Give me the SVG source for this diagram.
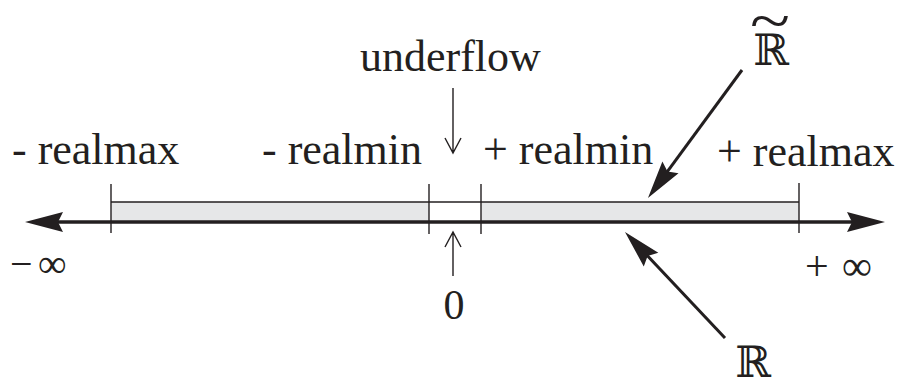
<svg xmlns="http://www.w3.org/2000/svg" width="899" height="381" viewBox="0 0 899 381">
<style>
.lbl{font-family:"Liberation Serif","Times New Roman",serif;font-size:44px;fill:#231f20}
.math{font-family:"Liberation Serif","Times New Roman",serif;font-size:40px;fill:#231f20}
.bb{font-family:"DejaVu Serif",serif;font-size:43px;fill:#231f20}
.thick{stroke:#231f20;stroke-width:3.5;fill:none}
.diag{stroke:#231f20;stroke-width:3;fill:none}
.thin{stroke:#231f20;stroke-width:1.4;fill:none}
.seg{fill:#e6e7e8;stroke:none}
</style>
<defs>
<marker id="head" markerUnits="userSpaceOnUse" viewBox="0 -12 40 24" markerWidth="40" markerHeight="24" refX="20" refY="0" orient="auto-start-reverse">
<path d="M2,-10 L40,0 L2,10 L7,0 Z" fill="#231f20"/>
</marker>
</defs>
<g id="bar">
<rect class="seg" x="111" y="202" width="318" height="20"/>
<rect class="seg" x="481" y="202" width="318" height="20"/>
<line class="thin" x1="111" y1="202" x2="799" y2="202"/>
<line class="thin" x1="111" y1="184" x2="111" y2="233"/>
<line class="thin" x1="429" y1="184" x2="429" y2="234"/>
<line class="thin" x1="481" y1="184" x2="481" y2="234"/>
<line class="thin" x1="799" y1="183" x2="799" y2="233"/>
</g>
<g id="connectors">
<line class="thick" x1="45" y1="222" x2="865" y2="222" marker-start="url(#head)" marker-end="url(#head)"/>
<line class="diag" x1="742" y1="70" x2="659.8" y2="181.9" marker-end="url(#head)"/>
<line class="diag" x1="725" y1="338" x2="638.7" y2="246.5" marker-end="url(#head)"/>
<path class="thin" d="M453,88 L453,153 M445,138 L453,153 L461,138"/>
<path class="thin" d="M453,276 L453,232 M445,247 L453,232 L461,247"/>
</g>
<g id="labels">
<text class="lbl" x="12" y="164">- realmax</text>
<text class="lbl" x="262" y="164">- realmin</text>
<text class="lbl" x="483" y="164">+ realmin</text>
<text class="lbl" x="717" y="166">+ realmax</text>
<text class="lbl" x="360" y="71">underflow</text>
<text class="math" x="454" y="319" text-anchor="middle" style="font-size:42px">0</text>
<text class="math" x="10 38" y="277">−∞</text>
<text class="math" x="805 842" y="280" style="font-size:42px">+∞</text>
<text class="bb" x="771" y="65" text-anchor="middle">ℝ</text>
<text class="math" x="750" y="41" textLength="40" lengthAdjust="spacingAndGlyphs" style="font-size:60px">~</text>
<text class="bb" x="753" y="377" text-anchor="middle">ℝ</text>
</g>
</svg>
